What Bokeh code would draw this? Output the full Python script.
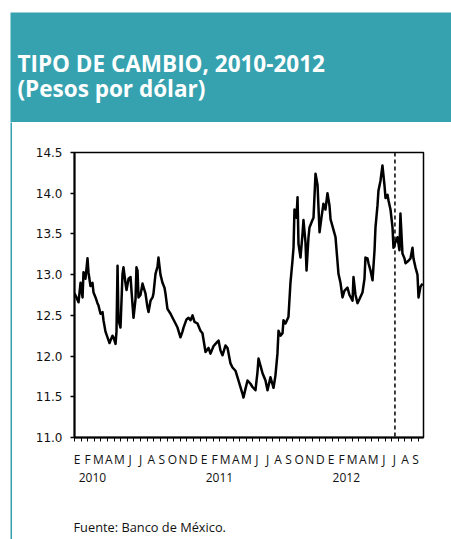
from bokeh.plotting import figure
from bokeh.layouts import column, row
from bokeh.models import (Range1d, FixedTicker, LinearAxis, Span, NumeralTickFormatter, Spacer)
from bokeh.core.properties import value
from bokeh.embed import file_html
from bokeh.resources import INLINE

# ---------------- data ----------------
# position in months since 1 Jan 2010 (0 = start of Jan 2010)
MONTHS = [0.00, 0.19, 0.38, 0.57, 0.76, 0.85, 1.04, 1.23, 1.32, 1.51, 1.70, 1.80, 1.99,
          2.17, 2.27, 2.46, 2.65, 2.74, 2.93, 3.12, 3.31, 3.40, 3.59, 3.69, 3.88, 3.97,
          4.07, 4.16, 4.35, 4.54, 4.63, 4.82, 4.92, 5.11, 5.30, 5.39, 5.58, 5.77, 5.86,
          5.96, 6.05, 6.24, 6.43, 6.52, 6.71, 6.90, 7.00, 7.19, 7.38, 7.47, 7.66, 7.85,
          7.94, 8.13, 8.32, 8.51, 8.60, 8.79, 9.08, 9.27, 9.55, 9.74, 10.02, 10.21, 10.31,
          10.59, 10.78, 10.97, 11.16, 11.35, 11.63, 11.91, 12.10, 12.39, 12.67, 12.86,
          13.14, 13.33, 13.62, 13.80, 13.99, 14.28, 14.47, 14.75, 14.94, 15.22, 15.41,
          15.60, 15.88, 15.98, 16.17, 16.36, 16.64, 16.83, 17.11, 17.30, 17.40, 17.59,
          17.78, 18.06, 18.25, 18.53, 18.82, 19.00, 19.19, 19.29, 19.48, 19.67, 19.76,
          19.95, 20.23, 20.42, 20.61, 20.71, 20.80, 20.99, 21.09, 21.18, 21.37, 21.56,
          21.65, 21.84, 21.94, 22.12, 22.22, 22.50, 22.60, 22.79, 22.98, 23.17, 23.35,
          23.54, 23.73, 23.92, 24.11, 24.21, 24.49, 24.68, 24.96, 25.15, 25.34, 25.52,
          25.81, 26.00, 26.29, 26.38, 26.57, 26.76, 26.95, 27.23, 27.42, 27.51, 27.70,
          27.80, 27.99, 28.18, 28.37, 28.46, 28.65, 28.74, 28.93, 29.12, 29.31, 29.41,
          29.60, 29.69, 29.88, 30.07, 30.16, 30.35, 30.54, 30.73, 30.82, 31.01, 31.20,
          31.30, 31.58, 31.77, 31.96, 32.05, 32.24, 32.43, 32.53, 32.71, 32.90]

PESOS_POR_DOLAR = [12.77, 12.72, 12.66, 12.90, 12.72, 13.03, 12.95, 13.20, 13.03, 12.86,
                   12.90, 12.78, 12.72, 12.65, 12.62, 12.52, 12.54, 12.44, 12.30, 12.23,
                   12.16, 12.19, 12.25, 12.23, 12.15, 12.30, 13.11, 12.44, 12.35, 13.01,
                   13.09, 12.90, 12.81, 12.95, 12.97, 12.80, 12.47, 12.70, 13.09, 13.05,
                   12.72, 12.75, 12.89, 12.85, 12.77, 12.60, 12.54, 12.68, 12.72, 12.77,
                   13.01, 13.10, 13.21, 13.00, 12.90, 12.84, 12.77, 12.58, 12.52, 12.47,
                   12.40, 12.35, 12.23, 12.30, 12.35, 12.45, 12.47, 12.44, 12.50, 12.42,
                   12.40, 12.31, 12.28, 12.05, 12.10, 12.03, 12.12, 12.15, 12.19, 12.07,
                   12.01, 12.13, 12.10, 11.91, 11.86, 11.82, 11.74, 11.66, 11.54, 11.49,
                   11.60, 11.70, 11.66, 11.62, 11.58, 11.80, 11.97, 11.88, 11.79, 11.70,
                   11.58, 11.74, 11.61, 11.76, 12.03, 12.31, 12.25, 12.28, 12.44, 12.40,
                   12.48, 12.90, 13.17, 13.33, 13.80, 13.70, 13.95, 13.38, 13.21, 13.50,
                   13.67, 13.40, 13.05, 13.45, 13.58, 13.67, 13.70, 14.24, 14.10, 13.52,
                   13.70, 13.87, 13.80, 14.00, 13.85, 13.68, 13.55, 13.46, 13.01, 12.90,
                   12.72, 12.80, 12.84, 12.75, 12.68, 12.97, 12.75, 12.65, 12.70, 12.78,
                   12.95, 13.21, 13.20, 13.14, 13.05, 12.93, 13.30, 13.58, 13.85, 14.03,
                   14.15, 14.34, 14.10, 13.94, 13.98, 13.91, 13.80, 13.58, 13.33, 13.40,
                   13.46, 13.30, 13.75, 13.26, 13.20, 13.14, 13.17, 13.20, 13.33, 13.20,
                   13.09, 13.00, 12.72, 12.85, 12.89]

MONTH_LETTERS = ["E", "F", "M", "A", "M", "J", "J", "A", "S", "O", "N", "D"]
YEARS = ["2010", "2011", "2012"]
N_MONTHS = 33                      # Jan 2010 .. Sep 2012
ELECTION_MONTH = 30.3              # dashed vertical marker (July 2012)
Y_TICKS = [11.0, 11.5, 12.0, 12.5, 13.0, 13.5, 14.0, 14.5]

TITLE_1 = "TIPO DE CAMBIO, 2010-2012"
TITLE_2 = "(Pesos por dólar)"
SOURCE = "Fuente: Banco de México."

# ---------------- styling ----------------
TEAL = "#36A2B0"
FULL_W = 451
TOP_GAP = 12
HEAD_H = 110
GAP_W = 10
RULE_W = 2
BODY_W = FULL_W - GAP_W - RULE_W
CHART_H = 377
FOOT_H = 539 - TOP_GAP - HEAD_H - CHART_H


def blank(w, h, fill="white"):
    f = figure(width=w, height=h, output_backend="svg", toolbar_location=None,
               x_range=Range1d(0, w), y_range=Range1d(h, 0),
               x_axis_location=None, y_axis_location=None,
               min_border=0, min_border_left=0, min_border_right=0,
               min_border_top=0, min_border_bottom=0, frame_align=False)
    try:
        f.title = None
    except Exception:
        f.title.visible = False
    f.grid.grid_line_color = None
    f.outline_line_color = None
    f.background_fill_color = fill
    f.border_fill_color = fill
    return f


# header band (whole canvas teal) with title
head = blank(FULL_W - GAP_W, HEAD_H, fill=TEAL)
head.text(x=[7, 7], y=[51, 76], text=[TITLE_1, TITLE_2], text_color="white",
          text_font=value("Open Sans"), text_font_style="bold", text_font_size="22.5px",
          text_baseline="alphabetic", text_align="left")

# thin teal rule on the left of the body (a canvas filled with teal)
rule = blank(RULE_W, CHART_H + FOOT_H, fill=TEAL)

# chart
p = figure(width=BODY_W, height=CHART_H, output_backend="svg", toolbar_location=None,
           x_range=Range1d(0, N_MONTHS), y_range=Range1d(Y_TICKS[0], Y_TICKS[-1]),
           min_border_left=62, min_border_right=28, min_border_top=30,
           min_border_bottom=62, frame_align=False)
p.grid.grid_line_color = None
p.outline_line_color = "black"
p.outline_line_width = 1.5
p.background_fill_color = "white"
p.border_fill_color = "white"

p.line(MONTHS, PESOS_POR_DOLAR, line_color="black", line_width=2.5, line_join="round")

p.add_layout(Span(location=ELECTION_MONTH, dimension="height", line_color="black",
                  line_width=1.5, line_dash="4 3"))

# x axis: month letters
labels = [MONTH_LETTERS[i % 12] for i in range(N_MONTHS)]
label_pos = [i + 0.25 for i in range(N_MONTHS)]
tick_marks = [k * 0.625 for k in range(int(N_MONTHS / 0.625) + 1)]
xa = p.xaxis[0]
xa.ticker = FixedTicker(ticks=label_pos, minor_ticks=tick_marks)
xa.major_label_overrides = {pos: lab for pos, lab in zip(label_pos, labels)}
xa.major_tick_line_color = None
xa.major_tick_in = 0
xa.major_tick_out = 0
xa.minor_tick_in = 0
xa.minor_tick_out = 4
xa.minor_tick_line_color = "black"
xa.minor_tick_line_width = 1
xa.axis_line_color = "black"
xa.axis_line_width = 2
xa.major_label_standoff = 9
xa.major_label_text_font = "Open Sans"
xa.major_label_text_font_size = "12px"
xa.major_label_text_color = "#111111"

# second row: years
year_pos = [1.7 + 12 * i for i in range(len(YEARS))]
ya2 = LinearAxis(ticker=FixedTicker(ticks=year_pos),
                 major_label_overrides={pos: y for pos, y in zip(year_pos, YEARS)})
ya2.axis_line_color = None
ya2.major_tick_line_color = None
ya2.minor_tick_line_color = None
ya2.major_tick_out = 0
ya2.major_label_standoff = 2
ya2.major_label_text_font = "Open Sans"
ya2.major_label_text_font_size = "12px"
ya2.major_label_text_color = "#111111"
p.add_layout(ya2, "below")

# y axis
ya = p.yaxis[0]
ya.ticker = FixedTicker(ticks=Y_TICKS)
ya.formatter = NumeralTickFormatter(format="0.0")
ya.major_tick_in = 0
ya.major_tick_out = 4
ya.major_tick_line_width = 1.5
ya.minor_tick_line_color = None
ya.axis_line_color = "black"
ya.axis_line_width = 2
ya.major_label_standoff = 8
ya.major_label_text_font = "DejaVu Sans"
ya.major_label_text_font_size = "12px"
ya.major_label_text_color = "#111111"

# footer with source
foot = blank(BODY_W, FOOT_H)
foot.text(x=[61], y=[27], text=[SOURCE], text_color="#111111",
          text_font=value("Open Sans"), text_font_size="12.8px",
          text_baseline="alphabetic", text_align="left")

layout = column(
    Spacer(width=FULL_W, height=TOP_GAP),
    row(Spacer(width=GAP_W, height=HEAD_H), head, spacing=0),
    row(Spacer(width=GAP_W, height=CHART_H + FOOT_H), rule,
        column(p, foot, spacing=0), spacing=0),
    spacing=0)

open("out.html", "w").write(file_html(layout, INLINE))
